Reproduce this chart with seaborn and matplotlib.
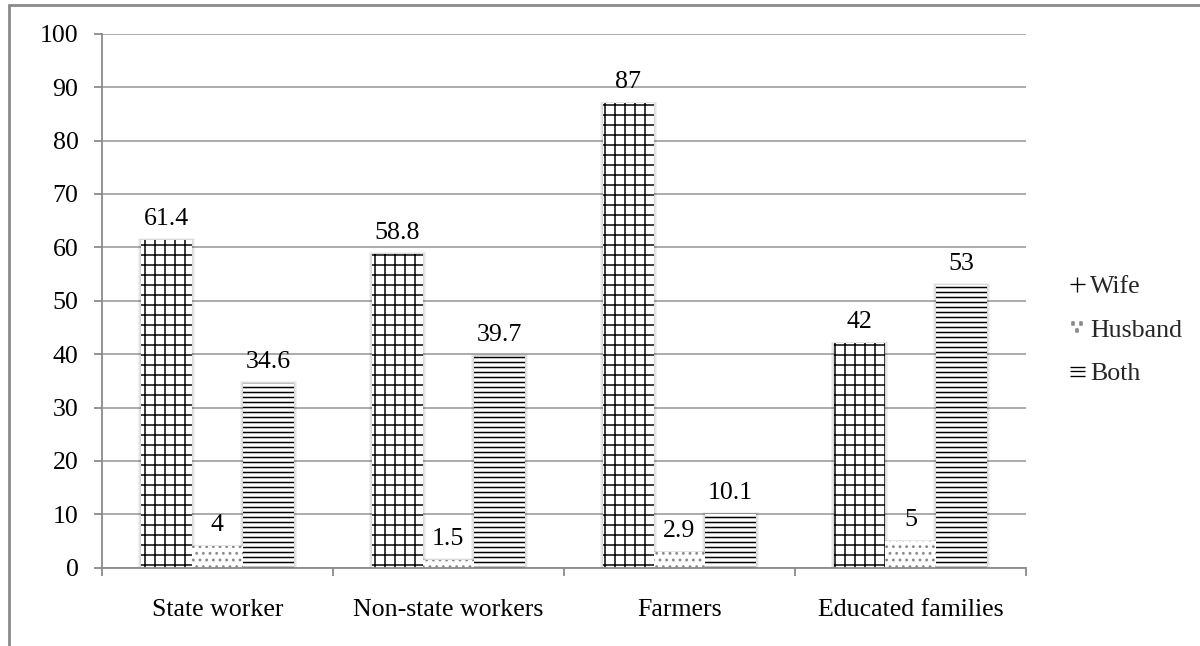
import numpy as np
import pandas as pd
import matplotlib
matplotlib.use("Agg")
import matplotlib.pyplot as plt
import seaborn as sns
from matplotlib.lines import Line2D
from matplotlib.patches import Rectangle
from matplotlib.path import Path

# Who makes the decision, by family group (%)
groups = ["State worker", "Non-state workers", "Farmers", "Educated families"]
series = ["Wife", "Husband", "Both"]
wife = [61.4, 58.8, 87, 42]
husband = [4, 1.5, 2.9, 5]
both = [34.6, 39.7, 10.1, 53]
y_ticks = list(range(0, 101, 10))

values = {"Wife": wife, "Husband": husband, "Both": both}
df = pd.DataFrame({
    "group": groups * 3,
    "who": [s for s in series for _ in groups],
    "value": wife + husband + both,
})

sns.set_theme(style="white")
plt.rcParams["font.family"] = ["Liberation Serif", "DejaVu Serif"]
plt.rcParams["hatch.linewidth"] = 0.9

GRID = "#a6a6a6"
AXIS = "#8c8c8c"
DOTS = "#8a8a8a"
FS = 15.5
DPI = 120

fig = plt.figure(figsize=(1200 / DPI, 646 / DPI), dpi=DPI)
ax = fig.add_axes([0.0848, 0.1212, 0.855 - 0.0848, 0.9478 - 0.1212])

sns.barplot(data=df, x="group", y="value", hue="who", order=groups,
            hue_order=series, width=0.662, gap=0, palette=["white"] * 3,
            saturation=1, errorbar=None, legend=False, ax=ax)

ax.set_ylim(0, 100)
ax.set_yticks(y_ticks)
ax.set_xlabel("")
ax.set_ylabel("")

hatches = {"Wife": "++", "Husband": "...", "Both": "----"}
hatch_colors = {"Wife": "black", "Husband": DOTS, "Both": "black"}

# soft drop shadow around each bar (a few faint, widening layers)
fig.canvas.draw()
px_x = (ax.get_xlim()[1] - ax.get_xlim()[0]) / ax.bbox.width
px_y = (ax.get_ylim()[1] - ax.get_ylim()[0]) / ax.bbox.height

for name, cont in zip(series, ax.containers):
    for bar in cont:
        bar.set_hatch(hatches[name])
        bar.set_edgecolor(hatch_colors[name])
        bar.set_linewidth(0)
        bar.set_facecolor("white")
        bx, bw, bh = bar.get_x(), bar.get_width(), bar.get_height()
        for k in (1, 2, 3):
            ax.add_patch(Rectangle((bx - k * px_x, 0), bw + 2 * k * px_x,
                                   bh + 0.5 * k * px_y, facecolor="black",
                                   edgecolor="none", alpha=0.05, zorder=1.5))
        bar.set_zorder(2)
    ax.bar_label(cont, labels=[f"{v:g}" for v in values[name]],
                 padding=6, fontsize=FS, color="black")

ax.yaxis.grid(True, color=GRID, linewidth=1.1)
ax.set_axisbelow(True)
for side in ("top", "right"):
    ax.spines[side].set_visible(False)
for side in ("left", "bottom"):
    ax.spines[side].set_color(AXIS)
    ax.spines[side].set_linewidth(1.1)
    ax.spines[side].set_zorder(3)

ax.tick_params(axis="y", left=True, length=5, width=1.1, color=AXIS,
               labelsize=FS, pad=9, labelcolor="black")
ax.set_xticks(np.arange(-0.5, len(groups), 1), minor=True)
ax.tick_params(axis="x", which="major", length=0, labelsize=FS, pad=19,
               labelcolor="black")
ax.tick_params(axis="x", which="minor", bottom=True, length=5, width=1.1,
               color=AXIS)

# legend keys drawn as small pattern glyphs
three_lines = Path([(-1, 0.6), (1, 0.6), (-1, 0), (1, 0), (-1, -0.6), (1, -0.6)],
                   [Path.MOVETO, Path.LINETO] * 3)
keys = {
    "Wife": dict(marker="+", markersize=9, markeredgewidth=0.8, color="black"),
    "Husband": dict(marker=r"$\because$", markersize=6, color=DOTS),
    "Both": dict(marker=three_lines, markersize=9, markeredgewidth=0.8,
                 markerfacecolor="none", color="black"),
}
handles = [Line2D([], [], linestyle="none", label=s, **keys[s]) for s in series]
fig.legend(handles=handles, loc="center left",
           bbox_to_anchor=(1054 / 1200, 1 - 330 / 646), frameon=False,
           fontsize=FS, handlelength=0.8, handletextpad=0.1,
           labelspacing=0.8, borderpad=0)

# outer frame
fig.add_artist(Line2D([0.0075, 1.0], [0.9923, 0.9923], transform=fig.transFigure,
                      color=AXIS, linewidth=1.7))
fig.add_artist(Line2D([0.0075, 0.0075], [0.0, 0.9923], transform=fig.transFigure,
                      color=AXIS, linewidth=1.7))

fig.savefig("out.png", dpi=DPI)
